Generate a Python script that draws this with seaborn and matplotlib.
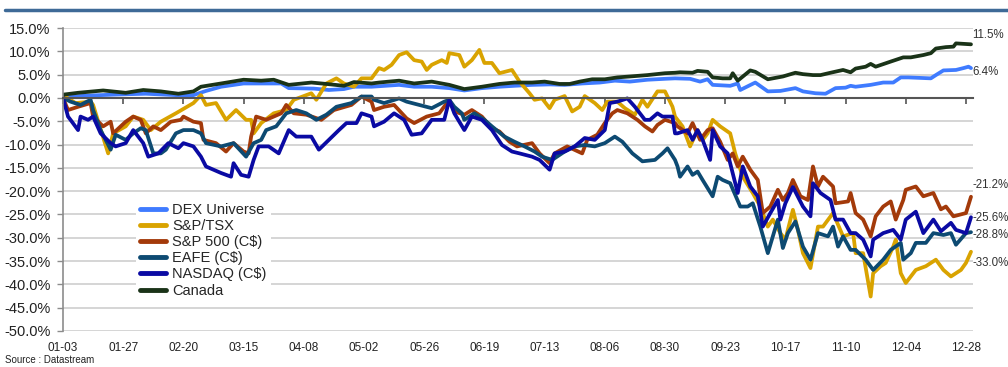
import numpy as np
import pandas as pd
import seaborn as sns
import matplotlib.pyplot as plt
import matplotlib.dates as mdates
import matplotlib.ticker as ticker
from matplotlib.lines import Line2D

start = pd.Timestamp('2008-01-03')

# cumulative return (%), days counted from 01-03
dex_days = [0, 10, 20, 33, 45, 52, 57, 63, 72, 80, 87, 90, 100, 106, 112, 116, 123,
            134, 140, 147, 154, 160, 167, 174, 180, 187, 194, 200, 207, 214, 220, 226, 233, 240, 244,
            250, 254, 257, 259, 266, 269, 270, 276, 281, 286, 292, 295, 300, 304, 308, 312, 314, 316,
            322, 327, 331, 334, 337, 346, 348, 351, 356, 359, 361, 362]
dex_vals = [0.2, 0.5, 0.7, 0.9, 0.6, 0.6, 1.5, 2.4, 3.1, 3.1, 3.1, 2.1, 2.0, 1.7, 1.9, 2.4, 2.4,
            2.8, 2.4, 2.4, 2.1, 1.6, 2.1, 2.4, 2.6, 2.8, 2.9, 2.8, 3.1, 3.3, 3.7, 3.5, 3.9, 4.1, 4.2,
            4.1, 3.5, 4.0, 2.8, 2.6, 3.1, 1.7, 3.3, 1.4, 1.5, 2.1, 1.4, 1.0, 0.9, 2.1, 2.2, 2.6, 2.4,
            2.8, 3.3, 3.3, 4.4, 4.4, 4.2, 4.9, 5.9, 6.0, 6.4, 6.7, 6.4]

tsx_days = [0, 5, 11, 12, 18, 20, 25, 28, 32, 35, 39, 45, 52, 55, 57, 61, 65, 69, 73, 75, 76, 79,
            84, 89, 92, 99, 101, 105, 109, 112, 116, 119, 123,
            126, 128, 131, 134, 137, 140, 143, 145, 147, 151, 153, 154, 158, 160, 163, 166, 168, 171,
            174, 179, 182, 186, 188, 191, 194, 196, 200, 203, 206, 208, 212, 215, 217, 221, 224, 228,
            231, 233, 237, 240, 243, 244,
            245, 247, 250, 253, 255, 257, 259, 262, 266, 268, 271, 275, 278, 281, 283, 286, 288, 291,
            293, 295, 298, 301, 303, 307, 311, 315, 316, 319, 322, 323, 326, 328, 331, 332, 334, 336,
            340, 344, 348, 351, 354, 358, 360, 362]
tsx_vals = [0.6, -1.1, -0.8, -1.5, -11.9, -7.6, -6.1, -4.0, -4.7, -6.9, -5.1, -3.3, -1.1, 0.6, -1.5,
            -1.1, -4.7, -2.6, -4.7, -4.7, -7.6, -5.4, -3.3, -2.6, -0.4, 1.0, -0.4, 3.1, 4.2, 3.1, 2.4,
            4.2, 4.2,
            6.4, 6.0, 7.1, 9.2, 9.8, 8.1, 7.8, 6.0, 7.1, 8.1, 7.5, 9.6, 9.2, 6.7, 8.1, 10.3, 7.5, 7.5,
            5.3, 6.0, 3.5, 1.0, -0.4, -0.1, -2.2, -0.4, 0.4, -2.9, -1.9, 0.4, -1.1, -2.6, -0.8, -0.8,
            -2.2, -3.6, -0.4, -1.9, 1.4, 1.4, -1.9, -4.0,
            -4.7, -6.1, -10.4, -6.9, -9.0, -7.6, -4.7, -6.1, -7.6, -11.9, -16.9, -20.4, -23.3, -27.6,
            -26.1, -29.0, -30.4, -24.0, -28.3, -33.3, -36.5, -27.6, -27.6, -24.7, -29.7, -29.0, -33.3,
            -33.3, -42.6, -37.6, -36.1, -35.4, -31.9, -30.4, -37.6, -39.7, -36.9, -36.1, -34.7, -36.9,
            -38.3, -36.9, -35.4, -33.0]

sp500_days = [0, 2, 6, 11, 12, 16, 19, 20, 23, 25, 28, 31, 33, 36, 39, 43, 47, 48, 52, 55, 56, 61,
              65, 68, 72, 74, 75, 77, 81, 87, 89, 92, 97, 103, 108, 115, 119, 123,
              124, 128, 132, 137, 140, 145, 150, 154, 156, 160, 163, 167, 171, 174, 178, 181, 187,
              190, 194, 196, 201, 207, 209, 213, 216, 219, 221, 225, 229, 232, 235, 237, 240, 244,
              245, 249, 251, 254, 257, 259, 262, 265, 267, 269, 271, 274, 277, 279, 282, 285, 287,
              289, 291, 294, 297, 299, 301, 303, 307, 308, 313, 314, 316, 319, 322, 324, 327, 330,
              332, 335, 336, 340, 343, 347, 350, 352, 355, 360, 362]
sp500_vals = [0.0, -2.6, -1.9, -1.1, -4.0, -6.1, -5.1, -7.6, -6.1, -5.1, -4.0, -4.7, -7.6, -6.1,
              -6.9, -5.1, -4.7, -4.0, -5.1, -5.4, -9.0, -9.7, -11.5, -9.7, -11.5, -11.9, -8.3, -4.0,
              -4.7, -3.3, -1.5, -3.3, -3.6, -4.7, -2.6, -1.5, 0.3, -0.8,
              -2.6, -1.9, -1.5, -4.4, -5.4, -4.0, -3.3, -0.4, -2.9, -3.6, -2.6, -4.0, -6.5, -7.2,
              -9.4, -10.4, -9.7, -11.9, -14.0, -11.9, -10.4, -11.9, -9.0, -7.9, -5.4, -3.3, -2.6,
              -3.3, -4.7, -6.1, -7.2, -5.8, -4.7, -5.4,
              -6.1, -7.6, -5.4, -9.0, -6.9, -6.5, -9.4, -13.3, -11.9, -14.7, -12.6, -15.4, -17.6,
              -24.7, -23.3, -19.7, -21.9, -20.4, -17.6, -21.1, -21.9, -14.7, -19.0, -16.9, -19.0,
              -22.6, -22.2, -20.4, -24.7, -26.1, -29.7, -25.4, -23.3, -22.2, -26.1, -21.9, -19.7,
              -19.0, -21.1, -20.4, -23.9, -23.3, -25.4, -24.7, -21.2]

eafe_days = [0, 3, 7, 11, 12, 15, 19, 21, 25, 28, 31, 33, 36, 39, 41, 45, 48, 52, 55, 57, 63, 68,
             73, 76, 79, 81, 85, 89, 93, 97, 101, 105, 109, 115, 119, 123,
             124, 128, 134, 137, 142, 147, 152, 154, 156, 159, 160, 164, 168, 171, 176, 180, 184,
             188, 191, 195, 200, 204, 208, 212, 216, 220, 223, 227, 231, 236, 239, 241, 244,
             245, 246, 249, 251, 253, 255, 259, 261, 263, 266, 270, 273, 275, 278, 281, 285, 287,
             289, 292, 295, 298, 301, 305, 307, 309, 311, 314, 316, 320, 323, 327, 330, 334, 335,
             338, 340, 344, 347, 351, 354, 356, 360, 362]
eafe_vals = [0.0, -0.8, -1.5, -0.4, -2.6, -6.9, -11.1, -7.9, -9.0, -7.6, -6.5, -6.9, -11.9, -11.9,
             -11.1, -7.6, -6.9, -6.9, -7.6, -9.7, -10.4, -9.7, -12.6, -9.7, -9.0, -6.9, -6.1, -3.3,
             -2.6, -3.3, -4.7, -3.6, -1.9, -1.1, 0.3, 0.3,
             -0.4, -1.1, -0.1, -0.8, -1.5, -2.2, -0.8, -0.4, -1.9, -3.3, -4.7, -3.3, -4.7, -6.1,
             -8.3, -9.4, -10.4, -11.5, -12.6, -13.3, -11.5, -10.4, -10.1, -10.4, -9.7, -8.3, -9.4,
             -11.9, -13.6, -13.3, -11.9, -10.8, -13.3,
             -14.7, -16.9, -14.7, -16.5, -15.8, -17.6, -21.1, -16.9, -17.6, -18.3, -23.3, -23.3,
             -22.6, -27.6, -33.3, -26.1, -32.2, -29.0, -26.5, -31.9, -34.7, -29.0, -29.7, -27.6,
             -31.9, -29.7, -32.6, -32.6, -34.7, -36.9, -34.7, -32.6, -31.1, -34.7, -33.3, -31.1,
             -31.1, -29.0, -29.4, -29.0, -31.5, -29.0, -28.8]

nasdaq_days = [0, 2, 3, 6, 7, 10, 12, 15, 19, 21, 25, 28, 32, 34, 38, 42, 46, 48, 52, 55, 57, 63,
               67, 68, 71, 74, 76, 78, 82, 86, 90, 93, 99, 102, 106, 110, 113, 117, 119, 123,
               124, 128, 132, 136, 139, 143, 147, 152, 154, 156, 160, 163, 167, 171, 175, 179, 182,
               187, 190, 194, 196, 200, 204, 208, 212, 216, 218, 221, 225, 228, 232, 234, 237, 239,
               243, 244,
               245, 249, 251, 253, 255, 258, 259, 262, 265, 269, 271, 274, 277, 279, 282, 285, 286,
               288, 291, 295, 298, 299, 302, 306, 308, 311, 314, 316, 319, 322, 323, 327, 331, 334,
               336, 340, 343, 347, 350, 354, 356, 360, 362]
nasdaq_vals = [0.0, -4.0, -4.7, -6.9, -4.0, -4.7, -4.0, -7.6, -9.7, -10.4, -9.7, -6.9, -9.7, -12.6,
               -11.9, -9.7, -10.8, -9.7, -10.4, -12.6, -14.7, -16.1, -16.9, -14.0, -16.5, -16.9,
               -13.3, -10.4, -10.4, -11.9, -6.9, -8.3, -8.3, -11.1, -9.0, -6.9, -5.4, -5.4, -3.3,
               -4.0,
               -6.1, -5.1, -3.3, -4.7, -7.9, -7.6, -4.7, -4.7, -0.4, -3.3, -6.9, -4.0, -4.7, -6.9,
               -10.1, -11.5, -11.9, -12.6, -13.3, -15.4, -11.9, -11.5, -10.4, -8.6, -9.0, -6.9,
               -1.1, -0.8, -0.1, -1.9, -4.7, -4.7, -3.3, -4.0, -4.0, -7.6,
               -7.6, -6.9, -9.0, -6.9, -9.0, -13.3, -6.9, -10.4, -11.9, -20.4, -14.7, -19.0, -21.1,
               -27.6, -24.7, -21.9, -26.1, -22.6, -19.1, -23.3, -25.4, -18.3, -20.4, -21.9, -26.1,
               -26.1, -29.0, -29.0, -30.4, -34.0, -30.4, -29.0, -28.3, -30.4, -26.1, -24.4, -29.0,
               -26.1, -28.6, -26.8, -28.3, -29.0, -25.6]

canada_days = [0, 6, 12, 16, 25, 32, 39, 46, 52, 55, 63, 72, 79, 84, 90, 99, 105, 112, 116, 123,
               126, 134, 140, 147, 154, 160, 167, 174, 180, 187, 192, 198, 202, 206, 211, 216, 221,
               226, 233, 240, 244,
               246, 251, 253, 257, 259, 263, 266, 267, 269, 274, 276, 281, 287, 292, 295, 299, 302,
               306, 311, 314, 316, 320, 322, 324, 330, 335, 338, 343, 346, 348, 352, 355, 356, 362]
canada_vals = [0.7, 1.1, 1.4, 1.6, 1.1, 1.7, 1.4, 0.9, 1.4, 2.4, 3.1, 3.9, 3.7, 3.9, 2.8, 3.3, 3.0,
               2.6, 3.4, 3.1,
               3.3, 3.7, 3.1, 3.5, 2.8, 1.9, 2.4, 3.0, 3.3, 3.3, 3.5, 3.0, 3.0, 3.5, 4.0, 4.0, 4.4,
               4.6, 4.9, 5.3, 5.4,
               5.5, 5.4, 5.8, 5.6, 4.4, 4.2, 4.2, 5.3, 3.7, 5.9, 5.6, 4.0, 4.6, 5.4, 5.1, 4.9, 4.9,
               5.4, 6.0, 5.5, 6.3, 6.7, 7.3, 6.7, 7.8, 8.7, 8.7, 9.2, 9.6, 10.6, 10.9, 11.0, 11.7,
               11.5]

names = ['DEX Universe', 'S&P/TSX', 'S&P 500 (C$)', 'EAFE (C$)', 'NASDAQ (C$)', 'Canada']
all_days = [dex_days, tsx_days, sp500_days, eafe_days, nasdaq_days, canada_days]
all_vals = [dex_vals, tsx_vals, sp500_vals, eafe_vals, nasdaq_vals, canada_vals]
colors = ['#3f7bff', '#d9a300', '#a33a0a', '#0d4a72', '#0a0aa3', '#1a3318']
# end label offsets in points (dx, dy)
label_offsets = [(1, -3), (1, -8), (1, 8.5), (1, -2), (1, -0.5), (1, 6.5)]

tick_dates = pd.date_range('2008-01-03', periods=16, freq='24D')

sns.set_theme(style='white')
plt.rcParams['font.family'] = ['Liberation Sans', 'DejaVu Sans']

fig = plt.figure(figsize=(10.08, 3.67), dpi=100)
ax = fig.add_axes([63 / 1008, 1 - 331 / 367, 910 / 1008, 303 / 367])

for name, days, vals, color, off in zip(names, all_days, all_vals, colors, label_offsets):
    d = pd.DataFrame({'date': start + pd.to_timedelta(days, unit='D'), 'ret': vals})
    sns.lineplot(data=d, x='date', y='ret', color=color, lw=2.7, label=name,
                 estimator=None, ax=ax)
    ax.annotate(f'{vals[-1]:.1f}%', xy=(d['date'].iloc[-1], vals[-1]), xytext=off,
                textcoords='offset points', ha='left', va='center', fontsize=8.3, color='#333333')

ax.set_xlim(start, start + pd.Timedelta(days=362.8))
ax.set_ylim(-50, 15)
ax.set_xlabel('')
ax.set_ylabel('')

ax.set_yticks(np.arange(-50, 16, 5))
ax.yaxis.set_major_formatter(ticker.FuncFormatter(lambda v, _: f'{v:.1f}%'))
ax.grid(axis='y', color='#cacaca', lw=1.1)
ax.set_axisbelow(True)

for s in ['top', 'right']:
    ax.spines[s].set_visible(False)
ax.spines['left'].set_color('#8c8c8c')
ax.spines['left'].set_linewidth(1.2)
ax.spines['bottom'].set_position(('data', 0))
ax.spines['bottom'].set_color('#555555')
ax.spines['bottom'].set_linewidth(1.5)

ax.set_xticks(tick_dates)
ax.tick_params(axis='x', direction='out', bottom=True, length=4, width=1.2, color='#555555',
               labelbottom=False)
ax.tick_params(axis='y', direction='out', left=True, length=4, width=1, color='#8c8c8c',
               labelsize=10.5, labelcolor='#222222', pad=5)

sec = ax.secondary_xaxis('bottom')
sec.set_xticks(mdates.date2num(tick_dates))
sec.xaxis.set_major_formatter(mdates.DateFormatter('%m-%d'))
sec.tick_params(length=0, labelsize=8.5, labelcolor='#222222', pad=8)
sec.spines['bottom'].set_visible(False)

leg = ax.legend(loc='upper left', bbox_to_anchor=(0.072, 0.462), frameon=True,
                facecolor='white', edgecolor='none', framealpha=1, fontsize=10.5,
                handlelength=1.8, handletextpad=0.4, labelspacing=0.15, borderpad=0.3)
for line in leg.get_lines():
    line.set_linewidth(3.5)

fig.add_artist(Line2D([5 / 1008, 1], [1 - 10 / 367, 1 - 10 / 367], transform=fig.transFigure,
                      color='#3e6a97', lw=2.5))
fig.text(5 / 1008, 2 / 367, 'Source : Datastream', fontsize=7, va='bottom',
         color='#222222')

fig.savefig('out.png', dpi=100)
